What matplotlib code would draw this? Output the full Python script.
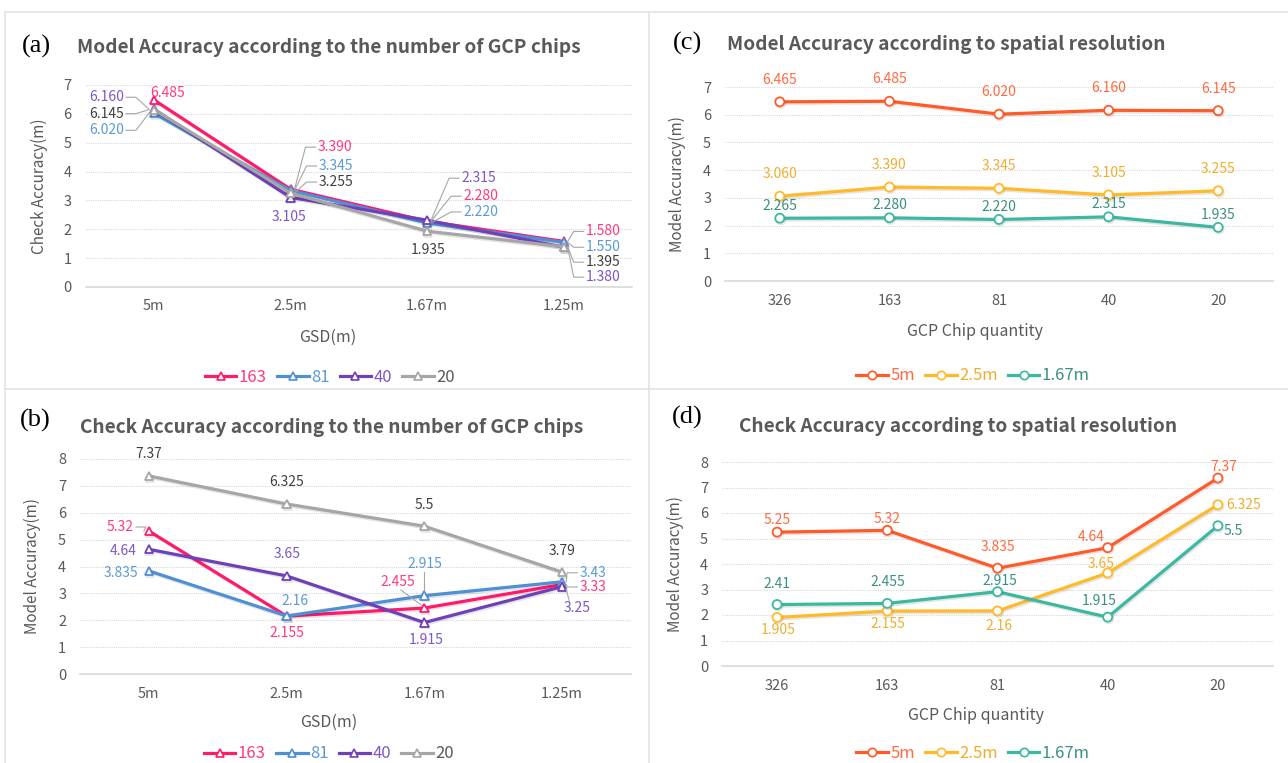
import numpy as np
import matplotlib.pyplot as plt
import matplotlib.patheffects as pe
from matplotlib.lines import Line2D
from matplotlib.transforms import IdentityTransform

plt.rcParams['font.family'] = ['Noto Sans CJK KR', 'DejaVu Sans']

W, H = 1288, 763

# ---- data -------------------------------------------------------------
gsd = ['5m', '2.5m', '1.67m', '1.25m']
chips = ['326', '163', '81', '40', '20']
chip_names = ['163', '81', '40', '20']
gsd_names = ['5m', '2.5m', '1.67m']

# (a) model accuracy by GSD, one series per GCP chip count
model_163 = [6.485, 3.390, 2.280, 1.580]
model_81 = [6.020, 3.345, 2.220, 1.550]
model_40 = [6.160, 3.105, 2.315, 1.380]
model_20 = [6.145, 3.255, 1.935, 1.395]

# (b) check accuracy by GSD
check_163 = [5.32, 2.155, 2.455, 3.33]
check_81 = [3.835, 2.16, 2.915, 3.43]
check_40 = [4.64, 3.65, 1.915, 3.25]
check_20 = [7.37, 6.325, 5.5, 3.79]

# (c) model accuracy by chip count, one series per GSD
model_5m = [6.465, 6.485, 6.020, 6.160, 6.145]
model_2_5m = [3.060, 3.390, 3.345, 3.105, 3.255]
model_1_67m = [2.265, 2.280, 2.220, 2.315, 1.935]

# (d) check accuracy by chip count
check_5m = [5.25, 5.32, 3.835, 4.64, 7.37]
check_2_5m = [1.905, 2.155, 2.16, 3.65, 6.325]
check_1_67m = [2.41, 2.455, 2.915, 1.915, 5.5]

# ---- styles -----------------------------------------------------------
chip_colors = ['#FF1A6C', '#4F8FD6', '#7040B8', '#A6A6A6']
chip_lab = ['#FF3A7C', '#5B9BD5', '#7E57C8', '#404040']
gsd_colors = ['#FF5A28', '#FFBA2A', '#3CB8A0']
gsd_lab = ['#FF6A40', '#EDAE2E', '#3A9080']
GREY = '#595959'

# label offsets in pixels (dx, dy up, ha, leader)
off_a = [
    [(14, 7, 'center', None), (27, 42, 'left', 'R'), (36, 25, 'left', 'R'), (22, 10, 'left', 'R')],
    [(-30, -17, 'right', 'L'), (28, 24.5, 'left', 'R'), (36, 11, 'left', 'R'), (22, -5, 'left', 'R')],
    [(-30, 12, 'right', 'L'), (-2, -19.5, 'center', None), (34, 42, 'left', 'R'), (22, -30, 'left', 'R')],
    [(-30, -4, 'right', 'L'), (28, 11, 'left', 'R'), (1, -19, 'center', None), (22, -15.5, 'left', 'R')],
]
off_b = [
    [(-15, 4, 'right', 'L'), (0, -17, 'center', None), (-9.5, 26, 'right', 'D'), (17, -2.5, 'left', 'R')],
    [(-10.5, -2, 'right', None), (8, 15, 'center', None), (0, 32, 'center', 'V'), (17, 9, 'left', 'R')],
    [(-12, -2, 'right', None), (0, 22, 'center', None), (2, -17, 'center', None), (15, -21, 'center', 'U')],
    [(0, 22, 'center', None), (0, 22, 'center', None), (0, 21, 'center', None), (0, 21, 'center', None)],
]
off_c = [
    [(0, 22, 'center', None)] * 5,
    [(0, 22, 'center', None)] * 5,
    [(0, 12.5, 'center', None)] * 5,
]
off_d = [
    [(0, 12, 'center', None), (0, 11, 'center', None), (0, 21, 'center', None), (-17, 11, 'center', None), (6, 11, 'center', None)],
    [(1, -13, 'center', None), (1, -13, 'center', None), (1, -15, 'center', None), (-6.6, 9, 'center', None), (8, 0, 'left', None)],
    [(0, 21, 'center', None), (1, 21, 'center', None), (2, 11, 'center', None), (-8.6, 16, 'center', None), (6, -5, 'left', None)],
]

fig = plt.figure(figsize=(W / 100, H / 100), dpi=100)
fig.patch.set_facecolor('white')

# panel frames
for (x0, y0, x1, y1) in [(5, 12, 5, 763), (5, 12, 1288, 12), (649, 12, 649, 763), (5, 389, 1288, 389)]:
    fig.add_artist(Line2D([x0 / W, x1 / W], [1 - y0 / H, 1 - y1 / H], color='#E4E4E4', lw=1.2))


def put_label(ax, x, y, txt, col, dx, dy, ha, lead):
    px, py = ax.transData.transform((x, y))
    tx, ty = px + dx, py + dy
    ax.text(tx, ty, txt, transform=IdentityTransform(), ha=ha, va='center',
            color=col, fontsize=10, clip_on=False, zorder=6)
    if lead is None:
        return
    if lead == 'L':
        pts = [(tx + 2, ty), (tx + 12, ty), (px - 5, py)]
    elif lead == 'R':
        pts = [(tx - 2, ty), (tx - 12, ty), (px + 4, py)]
    elif lead == 'V':
        pts = [(tx, ty - 8), (px, py + 6)]
    elif lead == 'D':
        pts = [(tx - 14, ty - 8), (px - 3, py + 3)]
    else:
        pts = [(tx - 8, ty + 7), (px + 4, py - 2)]
    xs, ys = zip(*pts)
    ax.add_artist(Line2D(xs, ys, transform=IdentityTransform(), color='#A6A6A6',
                         lw=0.8, zorder=5, clip_on=False))


def panel(box, cats, names, series, colors, labcols, marker, ytop, ylabel, xlabel,
          tag, tag_xy, title, title_xy, xlab_x, xlab_y, ylab_x, leg_xy, fmt, offs):
    left, top, right, bottom = box
    ax = fig.add_axes([left / W, 1 - bottom / H, (right - left) / W, (bottom - top) / H])
    x = np.arange(len(cats))
    ax.set_xlim(-0.5, len(cats) - 0.5)
    ax.set_ylim(0, ytop)
    ax.set_yticks(range(ytop + 1))
    ax.set_xticks(x)
    ax.set_xticklabels(cats)
    for s in ['top', 'right', 'left']:
        ax.spines[s].set_visible(False)
    ax.spines['bottom'].set_color('#D9D9D9')
    ax.spines['bottom'].set_linewidth(1.2)
    ax.yaxis.grid(True, color='#D9D9D9', lw=0.8, linestyle=(0, (1, 1)))
    ax.set_axisbelow(True)
    ax.tick_params(length=0, colors=GREY, labelsize=10.5)
    ax.tick_params(axis='x', pad=9)
    ax.tick_params(axis='y', pad=10)
    ax.set_ylabel(ylabel, fontsize=11, color=GREY)
    ax.yaxis.set_label_coords((ylab_x - left) / (right - left), 0.5)
    ax.set_xlabel(xlabel, fontsize=11.5, color=GREY)
    ax.xaxis.label.set_va('center')
    ax.xaxis.set_label_coords((xlab_x - left) / (right - left), -(xlab_y - bottom) / (bottom - top))

    fill_ms = 6 if marker == '^' else 6.5
    for name, vals, c in zip(names, series, colors):
        ax.plot(x, vals, color=c, lw=2.3, marker=marker, ms=fill_ms, mfc='white',
                mec=c, mew=1.3, label=name, clip_on=False, zorder=3,
                path_effects=[pe.SimpleLineShadow(offset=(0.8, -1.2), shadow_color='k', alpha=0.1),
                              pe.Normal()])
    for vals, lc, so in zip(series, labcols, offs):
        for i, v in enumerate(vals):
            dx, dy, ha, lead = so[i]
            put_label(ax, x[i], v, fmt(v), lc, dx, dy, ha, lead)

    fig.text(tag_xy[0] / W, 1 - tag_xy[1] / H, tag, family='Liberation Serif',
             fontsize=19, color='black', ha='left', va='center')
    fig.text(title_xy[0] / W, 1 - title_xy[1] / H, title, fontsize=13.7, fontweight='bold',
             color=GREY, ha='left', va='baseline')

    handles = [Line2D([], [], color=c, lw=2.3, marker=marker, ms=fill_ms - 0.5, mfc='white',
                      mec=c, mew=1.2) for c in colors]
    leg = ax.legend(handles, names, loc='center', bbox_to_anchor=(leg_xy[0] / W, 1 - leg_xy[1] / H),
                    bbox_transform=fig.transFigure, ncol=len(names), frameon=False,
                    fontsize=12, handlelength=1.9, handletextpad=0.15, columnspacing=0.6)
    for t, c in zip(leg.get_texts(), labcols):
        t.set_color(c if c != '#404040' else GREY)
    return ax


f3 = lambda v: '{:.3f}'.format(v)
fg = lambda v: '{:g}'.format(v)

panel((85.6, 85, 632, 287), gsd, chip_names, [model_163, model_81, model_40, model_20],
      chip_colors, chip_lab, '^', 7, 'Check Accuracy(m)', 'GSD(m)',
      '(a)', (22, 46), 'Model Accuracy according to the number of GCP chips', (77, 53),
      328, 337, 48, (330, 377), f3, off_a)

panel((725, 87, 1273, 281), chips, gsd_names, [model_5m, model_2_5m, model_1_67m],
      gsd_colors, gsd_lab, 'o', 7, 'Model Accuracy(m)', 'GCP Chip quantity',
      '(c)', (673, 43), 'Model Accuracy according to spatial resolution', (727, 50),
      975, 331, 686, (973, 376), f3, off_c)

panel((80, 459, 631, 674), gsd, chip_names, [check_163, check_81, check_40, check_20],
      chip_colors, chip_lab, '^', 8, 'Model Accuracy(m)', 'GSD(m)',
      '(b)', (20, 420), 'Check Accuracy according to the number of GCP chips', (80, 433),
      329, 722, 41, (329, 754), fg, off_b)

panel((722, 462, 1273, 666), chips, gsd_names, [check_5m, check_2_5m, check_1_67m],
      gsd_colors, gsd_lab, 'o', 8, 'Model Accuracy(m)', 'GCP Chip quantity',
      '(d)', (672, 417), 'Check Accuracy according to spatial resolution', (739, 432),
      976, 715, 684, (973, 753), fg, off_d)

fig.savefig('out.png', dpi=100, facecolor='white')
